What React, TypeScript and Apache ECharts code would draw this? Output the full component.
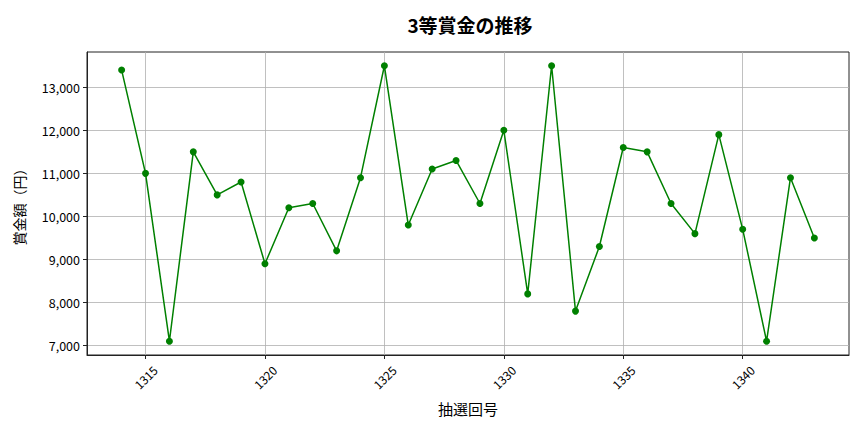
import React, { useEffect, useRef } from "react";
import * as echarts from "echarts";

const draws = [1314,1315,1316,1317,1318,1319,1320,1321,1322,1323,1324,1325,1326,1327,1328,1329,1330,1331,1332,1333,1334,1335,1336,1337,1338,1339,1340,1341,1342,1343];
const prizes = [13400,11000,7100,11500,10500,10800,8900,10200,10300,9200,10900,13500,9800,11100,11300,10300,12000,8200,13500,7800,9300,11600,11500,10300,9600,11900,9700,7100,10900,9500];
const xTicks = [1315,1320,1325,1330,1335,1340];
const yTicks = [7000,8000,9000,10000,11000,12000,13000];

const FONT = "'Noto Sans CJK JP', 'Noto Sans', sans-serif";

export default function App() {
  const ref = useRef<HTMLDivElement>(null);
  useEffect(() => {
    const chart = echarts.init(ref.current!, undefined, { renderer: "svg" });
    chart.setOption({
      animation: false,
      backgroundColor: "#ffffff",
      textStyle: { fontFamily: FONT },
      title: {
        text: "3等賞金の推移",
        left: 465,
        top: 10,
        textAlign: "center",
        textStyle: { fontFamily: FONT, fontSize: 19, fontWeight: "bold", color: "#000" },
      },
      grid: {
        left: 87, right: 15, top: 52, bottom: 77,
        show: true, borderColor: "#222", borderWidth: 1, backgroundColor: "transparent",
      },
      xAxis: {
        type: "value",
        min: 1312.55,
        max: 1344.45,
        name: "抽選回号",
        nameLocation: "middle",
        nameGap: 46,
        nameTextStyle: { fontFamily: FONT, fontSize: 15, color: "#000" },
        axisLine: { show: true, lineStyle: { color: "#222", width: 1 } },
        axisTick: { show: true, length: 4, customValues: xTicks, lineStyle: { color: "#222" } },
        axisLabel: {
          customValues: xTicks,
          rotate: 45,
          align: "center",
          verticalAlign: "middle",
          margin: 22,
          fontSize: 12,
          color: "#000",
          fontFamily: FONT,
          formatter: (v: number) => String(v),
        },
        splitLine: { show: true, lineStyle: { color: "#b0b0b0", width: 0.8 } },
      },
      yAxis: {
        type: "value",
        min: 6780,
        max: 13820,
        name: "賞金額（円）",
        nameLocation: "middle",
        nameGap: 61,
        nameTextStyle: { fontFamily: FONT, fontSize: 14, color: "#000" },
        axisLine: { show: true, lineStyle: { color: "#222", width: 1 } },
        axisTick: { show: true, length: 4, customValues: yTicks, lineStyle: { color: "#222" } },
        axisLabel: {
          customValues: yTicks,
          margin: 7,
          fontSize: 12.5,
          color: "#000",
          fontFamily: FONT,
          formatter: (v: number) => v.toLocaleString("en-US"),
        },
        splitLine: { show: true, lineStyle: { color: "#b0b0b0", width: 0.8 } },
      },
      series: [
        {
          type: "line",
          data: draws.map((d, i) => [d, prizes[i]]),
          symbol: "circle",
          symbolSize: 7,
          itemStyle: { color: "#008000" },
          lineStyle: { color: "#008000", width: 1.5 },
        },
      ],
    });
    return () => chart.dispose();
  }, []);
  return <div ref={ref} style={{ position: "fixed", left: 0, top: 0, width: 864, height: 432 }} />;
}
